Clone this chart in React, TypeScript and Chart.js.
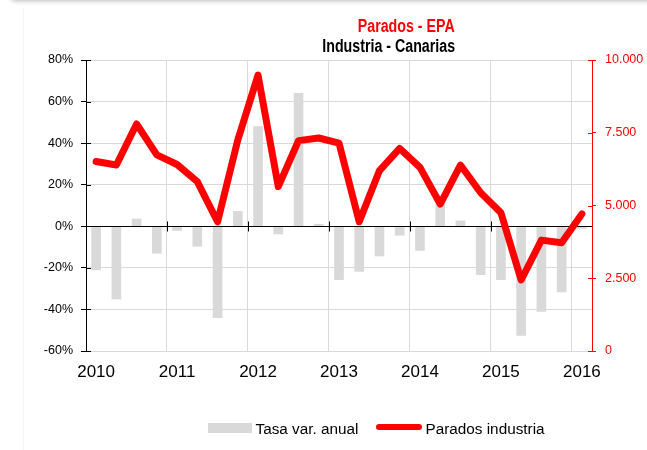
import React, { useEffect, useRef } from "react";
import { Chart, registerables } from "chart.js";

Chart.register(...registerables);

// ---- Data ----
const yearLabels = ["2010", "2011", "2012", "2013", "2014", "2015", "2016"];
const quarterCount = 25; // 2010 T1 .. 2016 T1

// Tasa de variación anual (%) - barras
const tasaVarAnual = [
  -21, -35, 3.5, -13,
  -2, -9.6, -44, 7.2,
  48, -3.7, 64, 1,
  -25.7, -21.7, -14.3, -4.3,
  -11.6, 13, 2.6, -23.3,
  -25.7, -52.5, -41, -31.6,
  -1,
];

// Parados industria (personas) - línea
const paradosIndustria = [
  6510, 6390, 7800, 6740,
  6410, 5820, 4440, 7250,
  9480, 5650, 7230, 7320,
  7140, 4440, 6200, 6960,
  6310, 5050, 6390, 5440,
  4750, 2440, 3810, 3720,
  4710,
];

const leftTicks = [-60, -40, -20, 0, 20, 40, 60, 80];
const rightTicks = [0, 2500, 5000, 7500, 10000];

const FONT = "'Liberation Sans', Arial, Helvetica, sans-serif";
const GRID = "#d9d9d9";
const RED = "#ff0000";

const fmtMiles = (v: number) =>
  String(v).replace(/\B(?=(\d{3})+(?!\d))/g, ".");

const axisDecor = {
  id: "axisDecor",
  afterDatasetDraw(chart: any, args: any) {
    if (args.meta.type !== "bar") return;
    const { ctx, chartArea } = chart;
    const y = chart.scales.y;
    const y1 = chart.scales.y1;
    const xg = chart.scales.xg;
    const y0 = Math.round(y.getPixelForValue(0)) + 0.5;
    ctx.save();
    ctx.lineWidth = 1;
    ctx.strokeStyle = "#000";
    ctx.beginPath();
    ctx.moveTo(chartArea.left, y0);
    ctx.lineTo(chartArea.right, y0);
    xg.ticks.forEach((t: any) => {
      const px = Math.round(xg.getPixelForValue(t.value)) + 0.5;
      ctx.moveTo(px, y0 - 5);
      ctx.lineTo(px, y0 + 5);
    });
    y.ticks.forEach((t: any) => {
      const py = Math.round(y.getPixelForValue(t.value)) + 0.5;
      ctx.moveTo(chartArea.left, py);
      ctx.lineTo(chartArea.left + 5, py);
    });
    ctx.stroke();
    ctx.strokeStyle = RED;
    ctx.beginPath();
    y1.ticks.forEach((t: any) => {
      const py = Math.round(y1.getPixelForValue(t.value)) + 0.5;
      ctx.moveTo(chartArea.right - 4, py);
      ctx.lineTo(chartArea.right, py);
    });
    ctx.stroke();
    ctx.restore();
  },
};

export default function App() {
  const canvasRef = useRef<HTMLCanvasElement | null>(null);

  useEffect(() => {
    const canvas = canvasRef.current;
    if (!canvas) return;
    const xs = Array.from({ length: quarterCount }, (_, i) => i + 0.5);

    const chart = new Chart(canvas, {
      type: "bar",
      data: {
        datasets: [
          {
            type: "line",
            label: "Parados industria",
            data: paradosIndustria.map((v, i) => ({ x: xs[i], y: v })),
            xAxisID: "x",
            yAxisID: "y1",
            borderColor: RED,
            backgroundColor: RED,
            borderWidth: 7,
            pointRadius: 0,
            borderJoinStyle: "round",
            borderCapStyle: "round",
            tension: 0,
            order: 0,
          } as any,
          {
            type: "bar",
            label: "Tasa var. anual",
            data: tasaVarAnual.map((v, i) => ({ x: xs[i], y: v })),
            xAxisID: "x",
            yAxisID: "y",
            backgroundColor: GRID,
            borderWidth: 0,
            barThickness: 9,
            order: 1,
          } as any,
        ],
      },
      options: {
        animation: false,
        responsive: false,
        events: [],
        layout: { padding: { top: 60, left: 0, right: 0, bottom: 69 } },
        plugins: {
          legend: { display: false },
          tooltip: { enabled: false },
          title: { display: false },
        },
        scales: {
          x: {
            type: "linear",
            position: "bottom",
            min: 0,
            max: quarterCount,
            offset: false,
            grid: { display: false, drawTicks: false, offset: false },
            border: { display: false },
            afterBuildTicks: (scale: any) => {
              scale.ticks = yearLabels.map((_, k) => ({ value: 4 * k + 0.5 }));
            },
            afterFit: (scale: any) => {
              scale.height = 30;
            },
            ticks: {
              autoSkip: false,
              maxRotation: 0,
              padding: 11,
              color: "#000",
              font: { family: FONT, size: 17 },
              callback: (value: any) =>
                yearLabels[Math.round((Number(value) - 0.5) / 4)] ?? "",
            },
          } as any,
          xg: {
            type: "linear",
            position: "top",
            min: 0,
            max: quarterCount,
            offset: false,
            grid: { color: GRID, lineWidth: 1, drawTicks: false, offset: false },
            border: { display: false },
            ticks: { display: false },
            afterBuildTicks: (scale: any) => {
              scale.ticks = yearLabels.map((_, k) => ({ value: 4 * k }));
            },
            afterFit: (scale: any) => {
              scale.height = 0;
            },
          } as any,
          y: {
            type: "linear",
            position: "left",
            min: -60,
            max: 80,
            afterBuildTicks: (scale: any) => {
              scale.ticks = leftTicks.map((v) => ({ value: v }));
            },
            afterFit: (scale: any) => {
              scale.width = 86;
            },
            grid: { color: GRID, lineWidth: 1, tickColor: "#000", tickLength: 5 },
            border: { display: true, color: "#000", width: 1 },
            ticks: {
              padding: 8,
              color: "#000",
              font: { family: FONT, size: 12.5 },
              callback: (v: any) => `${v}%`,
            },
          } as any,
          y1: {
            type: "linear",
            position: "right",
            min: 0,
            max: 10000,
            afterBuildTicks: (scale: any) => {
              scale.ticks = rightTicks.map((v) => ({ value: v }));
            },
            afterFit: (scale: any) => {
              scale.width = 55;
            },
            grid: { drawOnChartArea: false, tickColor: RED, tickLength: 4 },
            border: { display: true, color: RED, width: 1 },
            ticks: {
              padding: 9,
              color: RED,
              font: { family: FONT, size: 12.5 },
              callback: (v: any) => fmtMiles(Number(v)),
            },
          } as any,
        },
      } as any,
      plugins: [axisDecor],
    });

    return () => chart.destroy();
  }, []);

  const titleBase: React.CSSProperties = {
    position: "absolute",
    right: 647 - 455,
    fontFamily: FONT,
    fontWeight: "bold",
    fontSize: 18,
    lineHeight: "20px",
    whiteSpace: "nowrap",
    transform: "scaleX(0.79)",
    transformOrigin: "right center",
  };
  const legendText: React.CSSProperties = {
    position: "absolute",
    top: 419.5,
    fontFamily: FONT,
    fontSize: 15.3,
    lineHeight: "17px",
    color: "#000",
    whiteSpace: "nowrap",
  };

  return (
    <div
      style={{
        position: "absolute",
        left: 0,
        top: 0,
        width: 647,
        height: 450,
        background: "#fff",
        overflow: "hidden",
      }}
    >
      <div
        style={{
          position: "absolute",
          left: 10,
          top: -14,
          width: 680,
          height: 14,
          borderRadius: 6,
          background: "#fff",
          boxShadow: "0 1px 5px rgba(0,0,0,0.28)",
        }}
      />
      <div
        style={{
          position: "absolute",
          left: 23,
          top: 8,
          width: 1,
          height: 442,
          background: "#f4f4f4",
        }}
      />
      <canvas
        ref={canvasRef}
        width={647}
        height={450}
        style={{ position: "absolute", left: 0, top: 0, width: 647, height: 450 }}
      />
      <div style={{ ...titleBase, top: 16, color: RED }}>Parados - EPA</div>
      <div style={{ ...titleBase, top: 36, color: "#000" }}>Industria - Canarias</div>

      <div
        style={{
          position: "absolute",
          left: 208,
          top: 423,
          width: 44,
          height: 10,
          background: GRID,
        }}
      />
      <div style={{ ...legendText, left: 255.5 }}>Tasa var. anual</div>
      <div
        style={{
          position: "absolute",
          left: 376,
          top: 424,
          width: 46,
          height: 6,
          borderRadius: 3,
          background: RED,
        }}
      />
      <div style={{ ...legendText, left: 425.5 }}>Parados industria</div>
    </div>
  );
}
